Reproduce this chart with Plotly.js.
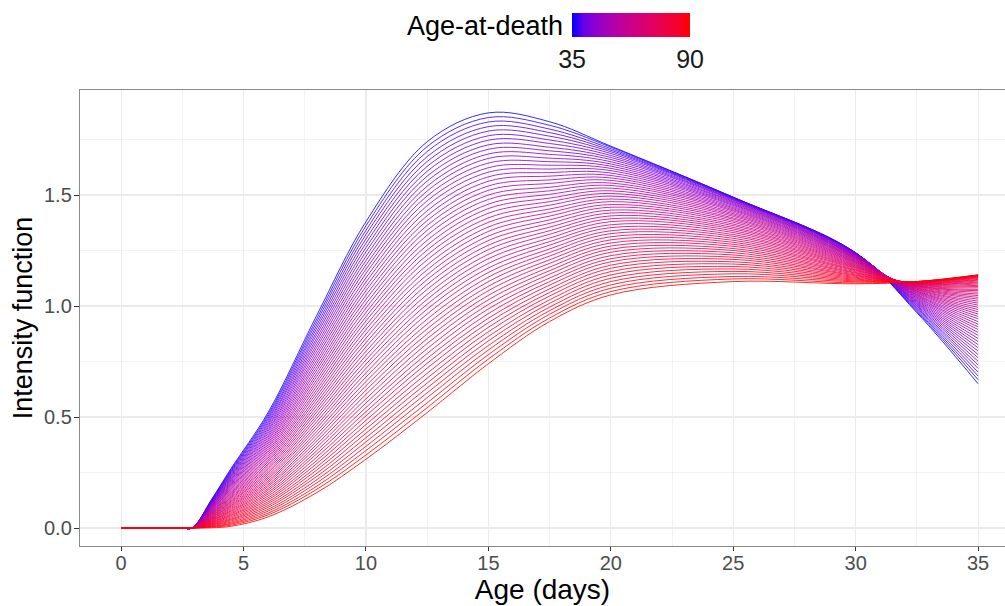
<!DOCTYPE html>
<html><head><meta charset="utf-8">
<script src="https://cdn.plot.ly/plotly-3.0.1.min.js"></script>
<style>html,body{margin:0;padding:0;background:#fff}#chart{width:1005px;height:606px}</style>
</head><body><div id="chart"></div>
<script>
// Age-at-death of each curve (35 ... 90)
const ageAtDeath = [35,36,37,38,39,40,41,42,43,44,
  45,46,47,48,49,50,51,52,53,54,
  55,56,57,58,59,60,61,62,63,64,
  65,66,67,68,69,70,71,72,73,74,
  75,76,77,78,79,80,81,82,83,84,
  85,86,87,88,89,90];

// Age (days) at which every curve is sampled
const days = [0, 2.5, 2.9, 3.7, 4.5, 6, 8, 10, 12.5, 15, 17.5, 20, 25, 30, 32.5, 35];

// Intensity of each curve (one value per age-at-death) at each sampled day
const beforeOnset = [0,0,0,0,0,0,0,0,0,0, 0,0,0,0,0,0,0,0,0,0, 0,0,0,0,0,0,0,0,0,0,
  0,0,0,0,0,0,0,0,0,0, 0,0,0,0,0,0,0,0,0,0, 0,0,0,0,0,0];
const day3_7 = [0.130,0.128,0.125,0.123,0.121,0.118,0.116,0.114,0.111,0.109,
  0.107,0.104,0.102,0.100,0.097,0.095,0.092,0.090,0.088,0.085,
  0.083,0.081,0.078,0.076,0.074,0.071,0.069,0.067,0.064,0.062,
  0.060,0.057,0.055,0.053,0.050,0.048,0.046,0.043,0.041,0.039,
  0.036,0.034,0.032,0.029,0.027,0.025,0.022,0.020,0.018,0.015,
  0.013,0.011,0.008,0.006,0.004,0.001];
const day4_5 = [0.270,0.265,0.260,0.256,0.251,0.246,0.241,0.237,0.232,0.227,
  0.222,0.218,0.213,0.208,0.203,0.199,0.194,0.189,0.184,0.179,
  0.175,0.170,0.165,0.160,0.156,0.151,0.146,0.141,0.137,0.132,
  0.127,0.122,0.118,0.113,0.108,0.103,0.099,0.094,0.089,0.084,
  0.079,0.075,0.070,0.065,0.060,0.056,0.051,0.046,0.041,0.037,
  0.032,0.027,0.022,0.018,0.013,0.008];
const day6 = [0.520,0.511,0.503,0.494,0.486,0.477,0.469,0.460,0.452,0.443,
  0.435,0.426,0.417,0.409,0.400,0.392,0.383,0.375,0.366,0.358,
  0.349,0.341,0.332,0.323,0.315,0.306,0.298,0.289,0.281,0.272,
  0.264,0.255,0.247,0.238,0.229,0.221,0.212,0.204,0.195,0.187,
  0.178,0.170,0.161,0.153,0.144,0.135,0.127,0.118,0.110,0.101,
  0.093,0.084,0.076,0.067,0.059,0.050];
const day8 = [0.960,0.945,0.931,0.916,0.902,0.887,0.873,0.858,0.844,0.829,
  0.815,0.800,0.785,0.771,0.756,0.742,0.727,0.713,0.698,0.684,
  0.669,0.655,0.640,0.625,0.611,0.596,0.582,0.567,0.553,0.538,
  0.524,0.509,0.495,0.480,0.465,0.451,0.436,0.422,0.407,0.393,
  0.378,0.364,0.349,0.335,0.320,0.305,0.291,0.276,0.262,0.247,
  0.233,0.218,0.204,0.189,0.175,0.160];
const day10 = [1.380,1.361,1.341,1.322,1.302,1.283,1.263,1.244,1.224,1.205,
  1.185,1.166,1.147,1.127,1.108,1.088,1.069,1.049,1.030,1.010,
  0.991,0.971,0.952,0.933,0.913,0.894,0.874,0.855,0.835,0.816,
  0.796,0.777,0.757,0.738,0.719,0.699,0.680,0.660,0.641,0.621,
  0.602,0.582,0.563,0.543,0.524,0.505,0.485,0.466,0.446,0.427,
  0.407,0.388,0.368,0.349,0.329,0.310];
const day12_5 = [1.740,1.718,1.696,1.673,1.651,1.629,1.607,1.585,1.563,1.540,
  1.518,1.496,1.474,1.452,1.429,1.407,1.385,1.363,1.341,1.319,
  1.296,1.274,1.252,1.230,1.208,1.185,1.163,1.141,1.119,1.097,
  1.075,1.052,1.030,1.008,0.986,0.964,0.941,0.919,0.897,0.875,
  0.853,0.831,0.808,0.786,0.764,0.742,0.720,0.697,0.675,0.653,
  0.631,0.609,0.587,0.564,0.542,0.520];
const day15 = [1.870,1.849,1.829,1.808,1.788,1.767,1.747,1.726,1.706,1.685,
  1.665,1.644,1.623,1.603,1.582,1.562,1.541,1.521,1.500,1.480,
  1.459,1.439,1.418,1.397,1.377,1.356,1.336,1.315,1.295,1.274,
  1.254,1.233,1.213,1.192,1.171,1.151,1.130,1.110,1.089,1.069,
  1.048,1.028,1.007,0.987,0.966,0.945,0.925,0.904,0.884,0.863,
  0.843,0.822,0.802,0.781,0.761,0.740];
const day17_5 = [1.830,1.814,1.797,1.781,1.765,1.748,1.732,1.715,1.699,1.683,
  1.666,1.650,1.634,1.617,1.601,1.585,1.568,1.552,1.535,1.519,
  1.503,1.486,1.470,1.454,1.437,1.421,1.405,1.388,1.372,1.355,
  1.339,1.323,1.306,1.290,1.274,1.257,1.241,1.225,1.208,1.192,
  1.175,1.159,1.143,1.126,1.110,1.094,1.077,1.061,1.045,1.028,
  1.012,0.995,0.979,0.963,0.946,0.930];
const day20 = [1.720,1.716,1.709,1.702,1.695,1.687,1.678,1.669,1.660,1.650,
  1.640,1.630,1.620,1.610,1.599,1.588,1.577,1.566,1.554,1.543,
  1.531,1.519,1.507,1.495,1.482,1.470,1.457,1.445,1.432,1.419,
  1.406,1.393,1.380,1.366,1.353,1.339,1.326,1.312,1.298,1.284,
  1.270,1.256,1.242,1.227,1.213,1.199,1.184,1.170,1.155,1.140,
  1.125,1.110,1.095,1.080,1.065,1.050];
const day25 = [1.490,1.490,1.489,1.487,1.486,1.484,1.481,1.479,1.476,1.472,
  1.469,1.465,1.461,1.457,1.453,1.448,1.443,1.438,1.433,1.428,
  1.422,1.416,1.410,1.404,1.397,1.391,1.384,1.377,1.369,1.362,
  1.354,1.347,1.339,1.331,1.322,1.314,1.305,1.296,1.287,1.278,
  1.269,1.259,1.250,1.240,1.230,1.220,1.210,1.199,1.189,1.178,
  1.167,1.156,1.145,1.133,1.122,1.110];
const day30 = [1.240,1.240,1.239,1.239,1.238,1.238,1.237,1.236,1.235,1.234,
  1.232,1.231,1.229,1.228,1.226,1.225,1.223,1.221,1.219,1.217,
  1.215,1.213,1.211,1.208,1.206,1.203,1.201,1.198,1.196,1.193,
  1.190,1.187,1.184,1.181,1.178,1.175,1.172,1.169,1.165,1.162,
  1.159,1.155,1.151,1.148,1.144,1.140,1.137,1.133,1.129,1.125,
  1.121,1.117,1.113,1.109,1.104,1.100];
const day32_5 = [0.970,0.975,0.980,0.985,0.990,0.994,0.999,1.003,1.008,1.012,
  1.016,1.020,1.024,1.028,1.032,1.036,1.040,1.043,1.047,1.050,
  1.053,1.057,1.060,1.063,1.066,1.068,1.071,1.074,1.076,1.079,
  1.081,1.083,1.086,1.088,1.090,1.091,1.093,1.095,1.097,1.098,
  1.100,1.101,1.102,1.103,1.104,1.105,1.106,1.107,1.108,1.108,
  1.109,1.109,1.110,1.110,1.110,1.110];
const day35 = [0.650,0.668,0.685,0.702,0.719,0.735,0.751,0.767,0.782,0.797,
  0.812,0.826,0.840,0.854,0.868,0.881,0.894,0.906,0.918,0.930,
  0.942,0.953,0.964,0.974,0.984,0.994,1.004,1.013,1.022,1.031,
  1.039,1.047,1.054,1.062,1.069,1.075,1.082,1.088,1.093,1.099,
  1.104,1.108,1.113,1.117,1.120,1.124,1.127,1.130,1.132,1.134,
  1.136,1.137,1.139,1.139,1.140,1.140];

const columns = [beforeOnset, beforeOnset, beforeOnset, day3_7, day4_5, day6, day8, day10,
  day12_5, day15, day17_5, day20, day25, day30, day32_5, day35];

const colourbarTicks = [35, 90];

// ---- colour scale: blue -> red interpolated in CIELAB (like ggplot2) ----
function toLin(c){ return c <= 0.04045 ? c/12.92 : Math.pow((c+0.055)/1.055, 2.4); }
function toSrgb(c){ return c <= 0.0031308 ? 12.92*c : 1.055*Math.pow(c, 1/2.4) - 0.055; }
function rgb2lab(rgb){
  const r = toLin(rgb[0]/255), g = toLin(rgb[1]/255), b = toLin(rgb[2]/255);
  const X = (0.4124*r + 0.3576*g + 0.1805*b)/0.95047;
  const Y = (0.2126*r + 0.7152*g + 0.0722*b);
  const Z = (0.0193*r + 0.1192*g + 0.9505*b)/1.08883;
  const f = t => t > 0.008856 ? Math.cbrt(t) : 7.787*t + 16/116;
  const fx = f(X), fy = f(Y), fz = f(Z);
  return [116*fy - 16, 500*(fx - fy), 200*(fy - fz)];
}
function lab2rgb(lab){
  const fy = (lab[0] + 16)/116, fx = fy + lab[1]/500, fz = fy - lab[2]/200;
  const fi = t => t > 0.206893 ? t*t*t : (t - 16/116)/7.787;
  const X = fi(fx)*0.95047, Y = fi(fy), Z = fi(fz)*1.08883;
  const r =  3.2406*X - 1.5372*Y - 0.4986*Z;
  const g = -0.9689*X + 1.8758*Y + 0.0415*Z;
  const b =  0.0557*X - 0.2040*Y + 1.0570*Z;
  const cl = v => Math.round(255*Math.min(1, Math.max(0, toSrgb(Math.min(1, Math.max(0, v))))));
  return 'rgb(' + cl(r) + ',' + cl(g) + ',' + cl(b) + ')';
}
const labLow = rgb2lab([0,0,255]), labHigh = rgb2lab([255,0,0]);
function colourAt(u){
  return lab2rgb([0,1,2].map(i => labLow[i] + (labHigh[i] - labLow[i])*u));
}
const amin = ageAtDeath[0], amax = ageAtDeath[ageAtDeath.length - 1];
const colourscale = [];
for (let s = 0; s <= 10; s++) colourscale.push([s/10, colourAt(s/10)]);

// ---- traces ----
const traces = ageAtDeath.map((age, k) => ({
  type: 'scatter', mode: 'lines',
  x: days,
  y: columns.map(col => col[k]),
  opacity: 0.82,
  line: {color: colourAt((age - amin)/(amax - amin)), width: 1, shape: 'spline', smoothing: 1},
  hoverinfo: 'skip', showlegend: false
}));

// colourbar carrier
traces.push({
  type: 'scatter', mode: 'markers',
  x: [days[0], days[0]], y: [0, 0],
  marker: {
    color: [amin, amax], cmin: amin, cmax: amax, colorscale: colourscale,
    opacity: 0, size: 1, showscale: true,
    colorbar: {
      orientation: 'h', x: 0.532, xanchor: 'left', y: 1.169, yanchor: 'top',
      len: 118, lenmode: 'pixels', thickness: 24, thicknessmode: 'pixels',
      outlinewidth: 0, xpad: 0, ypad: 0,
      tickmode: 'array', tickvals: colourbarTicks, ticktext: colourbarTicks.map(String),
      ticks: '', ticklabelposition: 'outside bottom',
      tickfont: {family: 'Liberation Sans, Arial, sans-serif', size: 25, color: '#1a1a1a'}
    }
  },
  hoverinfo: 'skip', showlegend: false
});

const gridCol = '#ebebeb';
const layout = {
  width: 1005, height: 606,
  margin: {l: 80, r: 0, t: 90, b: 60},
  paper_bgcolor: '#fff', plot_bgcolor: '#fff',
  font: {family: 'Liberation Sans, Arial, sans-serif', color: '#000'},
  xaxis: {
    range: [-1.68, 36.1], tick0: 0, dtick: 5, zeroline: false,
    showgrid: true, gridcolor: gridCol, gridwidth: 1.1,
    minor: {tick0: 0, dtick: 2.5, showgrid: true, gridcolor: gridCol, gridwidth: 0.6, ticks: ''},
    ticks: 'outside', ticklen: 4, tickcolor: '#333', tickwidth: 1,
    ticklabelstandoff: -5,
    tickfont: {size: 20, color: '#4d4d4d'},
    showline: true, linecolor: '#8a8a8a', linewidth: 1.2, mirror: true,
    title: {text: 'Age (days)', font: {size: 28, color: '#000'}, standoff: 6}
  },
  yaxis: {
    range: [-0.081, 1.973], tick0: 0, dtick: 0.5, tickformat: '.1f', zeroline: false,
    showgrid: true, gridcolor: gridCol, gridwidth: 1.1,
    minor: {tick0: 0, dtick: 0.25, showgrid: true, gridcolor: gridCol, gridwidth: 0.6, ticks: ''},
    ticks: 'outside', ticklen: 5, tickcolor: '#333', tickwidth: 1,
    ticklabelstandoff: -2,
    tickfont: {size: 20, color: '#4d4d4d'},
    showline: true, linecolor: '#8a8a8a', linewidth: 1.2, mirror: false,
    title: {text: 'Intensity function', font: {size: 27, color: '#000'}, standoff: 3}
  },
  annotations: [{
    text: 'Age-at-death', xref: 'paper', yref: 'paper',
    x: 0.524, xanchor: 'right', y: 1.14, yanchor: 'middle',
    showarrow: false, font: {size: 27, color: '#000'}
  }],
  hovermode: false
};

Plotly.newPlot('chart', traces, layout, {staticPlot: true, displayModeBar: false});
</script>
</body></html>
